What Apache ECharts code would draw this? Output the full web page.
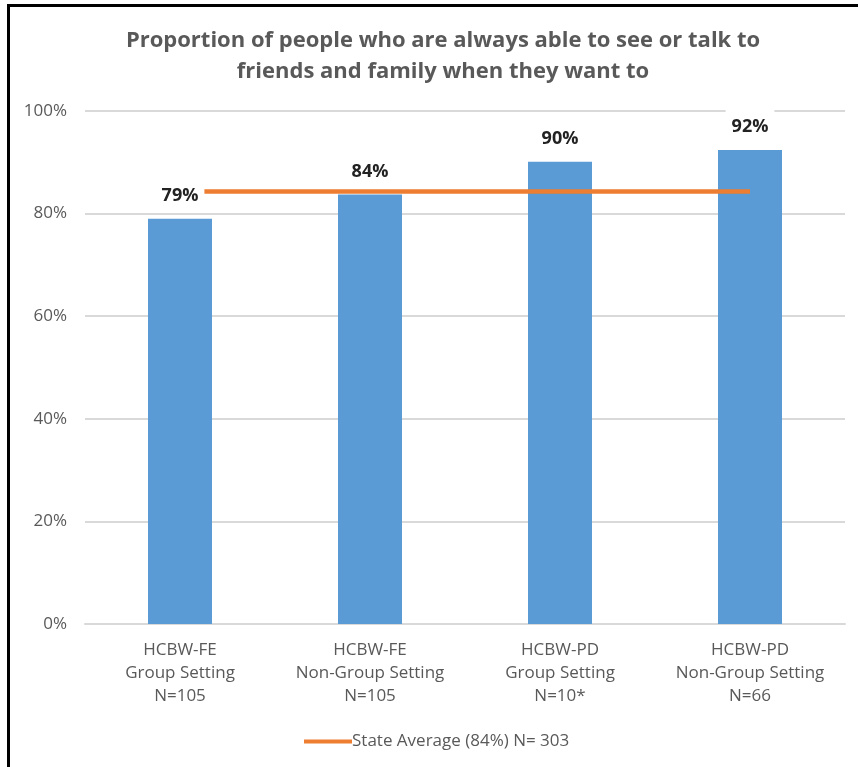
<!DOCTYPE html>
<html>
<head>
<meta charset="utf-8">
<script src="https://cdn.jsdelivr.net/npm/echarts@6/dist/echarts.min.js"></script>
<style>
  html, body { margin: 0; padding: 0; background: #fff; }
  #chart { width: 858px; height: 767px; }
</style>
</head>
<body>
<div id="chart"></div>
<script>
// Survey groups shown along the x axis
const categories = [
  'HCBW-FE\nGroup Setting\nN=105',
  'HCBW-FE\nNon-Group Setting\nN=105',
  'HCBW-PD\nGroup Setting\nN=10*',
  'HCBW-PD\nNon-Group Setting\nN=66'
];
// Percent who are always able to see or talk to friends and family
const groupValues = [79.0, 83.7, 90.1, 92.4];
// Statewide average, drawn across all groups
const stateAverage = [84.3, 84.3, 84.3, 84.3];
const stateAverageName = 'State Average (84%) N= 303';
// Value axis ticks
const yTicks = [0, 20, 40, 60, 80, 100];

const FONT = '"Open Sans", "Noto Sans", sans-serif';
const chart = echarts.init(document.getElementById('chart'), null, { renderer: 'canvas' });

chart.setOption({
  backgroundColor: '#ffffff',
  animation: false,
  textStyle: { fontFamily: FONT },
  title: {
    text: 'Proportion of people who are always able to see or talk to\nfriends and family when they want to',
    left: 438,
    textAlign: 'center',
    top: 20,
    textStyle: {
      fontFamily: FONT,
      fontSize: 22,
      fontWeight: 'bold',
      color: '#595959',
      lineHeight: 31
    }
  },
  legend: {
    data: [stateAverageName],
    left: 299,
    top: 728,
    icon: 'rect',
    itemWidth: 48,
    itemHeight: 4,
    itemGap: 0,
    textStyle: { fontFamily: FONT, fontSize: 17, color: '#595959', padding: [0, 0, 0, -5] }
  },
  grid: { left: 85, right: 13, top: 111, bottom: 143, containLabel: false },
  xAxis: {
    type: 'category',
    data: categories,
    axisTick: { show: false },
    axisLine: { lineStyle: { color: '#d9d9d9', width: 2 } },
    axisLabel: {
      fontFamily: FONT,
      fontSize: 17,
      color: '#595959',
      lineHeight: 23,
      margin: 15,
      interval: 0
    }
  },
  yAxis: {
    type: 'value',
    min: yTicks[0],
    max: yTicks[yTicks.length - 1],
    interval: yTicks[1] - yTicks[0],
    axisLine: { show: false },
    axisTick: { show: false },
    splitLine: { lineStyle: { color: '#d9d9d9', width: 2 } },
    axisLabel: {
      fontFamily: FONT,
      fontSize: 17,
      color: '#595959',
      margin: 18,
      formatter: '{value}%'
    }
  },
  series: [
    {
      name: 'Groups',
      type: 'bar',
      data: groupValues,
      barWidth: 64,
      z: 1,
      itemStyle: { color: '#5b9bd5' }
    },
    {
      name: stateAverageName,
      type: 'line',
      data: stateAverage,
      z: 3,
      symbol: 'none',
      lineStyle: { color: '#ed7d31', width: 4.5 },
      itemStyle: { color: '#ed7d31' }
    },
    {
      // value labels sit on white boxes above the bars and the average line
      name: 'Labels',
      type: 'bar',
      data: groupValues,
      barWidth: 64,
      barGap: '-100%',
      z: 5,
      silent: true,
      itemStyle: { color: 'rgba(0,0,0,0)' },
      label: {
        show: true,
        position: 'top',
        distance: 9,
        fontFamily: FONT,
        fontSize: 18,
        fontWeight: 'bold',
        color: '#222222',
        backgroundColor: '#ffffff',
        padding: [10, 6, 5, 6],
        formatter: p => Math.round(p.value) + '%'
      }
    }
  ],
  graphic: [
    { type: 'rect', shape: { x: 7, y: 4, width: 3, height: 770 }, style: { fill: '#000' }, silent: true },
    { type: 'rect', shape: { x: 7, y: 4, width: 860, height: 3 }, style: { fill: '#000' }, silent: true }
  ]
});
</script>
</body>
</html>
